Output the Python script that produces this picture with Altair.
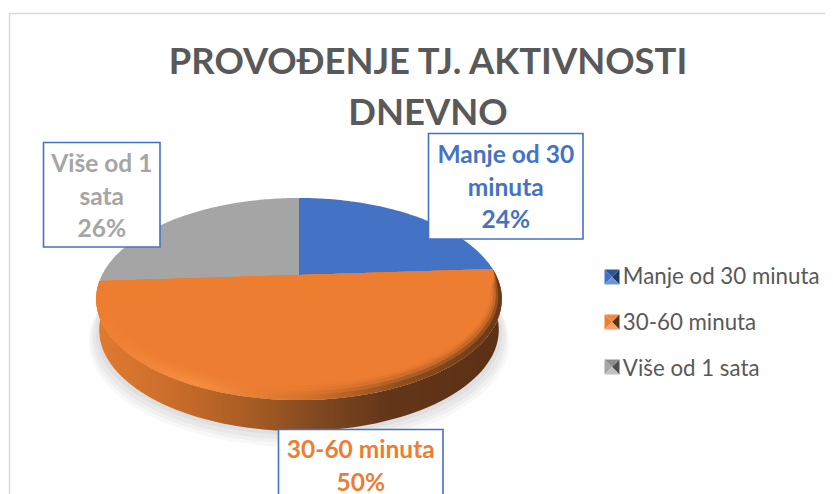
import math
import altair as alt

categories = ["Manje od 30 minuta", "30-60 minuta", "Više od 1 sata"]
shares = [24, 50, 26]
colors = ["#4472C4", "#ED7D31", "#A5A5A5"]
title_lines = ["PROVOĐENJE TJ. AKTIVNOSTI", "DNEVNO"]
label_lines = [["Manje od 30", "minuta", "24%"], ["30-60 minuta", "50%"], ["Više od 1", "sata", "26%"]]

OFF = 8
CX, K, APEX, A, C = 299, 197, 275, 30, -0.2376


def proj(s, t, dy=0.0, shrink=1.0):
    d = 1 + C * t
    return [CX - OFF + K * shrink * s / d, (A * t + APEX) / d + dy - OFF]


def feat(coords, **props):
    return {"type": "Feature", "properties": props,
            "geometry": {"type": "Polygon", "coordinates": [coords + [coords[0]]]}}


def wedge(a0, a1, rf=lambda a: 1.0):
    n = max(8, int(a1 - a0))
    pts = [proj(0, 0)]
    for i in range(n + 1):
        a = a0 + (a1 - a0) * i / n
        r = rf(a)
        pts.append(proj(r * math.sin(math.radians(a)), -r * math.cos(math.radians(a))))
    return pts


def disc(dy=0.0, grow=1.0):
    return [proj(grow * math.sin(math.radians(3 * i)), -grow * math.cos(math.radians(3 * i)), dy) for i in range(120)]


# slice angles come from the shares
edges = [0.0]
for v in shares:
    edges.append(edges[-1] + v * 3.6)
slices = [feat(wedge(edges[i], edges[i + 1]), name=categories[i]) for i in range(3)]


def shape(features, **mark):
    mark.setdefault("strokeWidth", 0)
    return alt.Chart(alt.Data(values=features)).mark_geoshape(**mark).project(type="identity", scale=1, translate=[0, 0])


def grad(stops):
    return alt.LinearGradient(gradient="linear", x1=0, x2=1, y1=0, y2=0,
                              stops=[alt.GradientStop(offset=o, color=c) for o, c in stops])


layers = []
# frame: only its left and top edges are in view
layers.append(alt.Chart(alt.Data(values=[{"x": 9.5 - OFF, "x2": 900, "y": 13.5 - OFF, "y2": 560}]))
              .mark_rect(fill="white", stroke="#D9D9D9", strokeWidth=1.5, clip=True)
              .encode(x=alt.X("x:Q", scale=None), x2="x2:Q", y=alt.Y("y:Q", scale=None), y2="y2:Q"))
# soft shadow
for grow, dy, op in [(1.035, 41, 0.05), (1.025, 39, 0.06), (1.015, 37, 0.07), (1.0, 35, 0.08), (0.985, 33, 0.1)]:
    layers.append(shape([feat(disc(dy, grow))], color="#7F7F7F", opacity=op))
# side wall
lower = [proj(math.sin(math.radians(a)), -math.cos(math.radians(a))) for a in range(86, 268, 2)]
lower_b = [proj(math.sin(math.radians(a)), -math.cos(math.radians(a)), 31, 0.985) for a in range(86, 268, 2)]
side_stops = [(0, "#E07A30"), (0.2, "#C96C2A"), (0.4, "#A35A24"), (0.55, "#7F4820"), (0.72, "#63361A"), (1, "#5C3014")]
layers.append(shape([feat(lower + lower_b[::-1])], color=grad(side_stops)))
# main slices, with the legend
layers.append(
    shape(slices).encode(
        color=alt.Color("properties.name:N",
                        scale=alt.Scale(domain=categories, range=colors),
                        legend=alt.Legend(title=None, orient="none", legendX=592.5, legendY=258,
                                          symbolType="square", symbolSize=64, symbolStrokeWidth=0, symbolOpacity=0,
                                          labelFontSize=22.3, labelFont="Lato", labelColor="#595959",
                                          labelLimit=260, rowPadding=23, labelOffset=0))
    )
)
# bevel on the orange top face
a0, a1 = edges[1], edges[2]
bevel = [(0, "#ED7D31"), (0.25, "#F58D40"), (0.5, "#D9742E"), (0.75, "#8F4F20"), (1, "#693817")]
layers.append(shape([feat(wedge(a0, a1))], color=grad(bevel)))


def rim(frac):
    def f(a):
        e = min(1, max(0, min(a - a0, a1 - a) / 10))
        w = 0.04 + 0.07 * max(0, -math.cos(math.radians(a)))
        return 1 - w * frac * e
    return f


for frac, op in [(0.3, 0.35), (0.5, 0.5), (0.7, 0.6), (0.85, 0.75), (1.0, 1)]:
    layers.append(shape([feat(wedge(a0, a1, rim(frac)))], color="#ED7D31", opacity=op))

# label boxes
boxes = [
    dict(x=428.5, x2=583, y=133.5, y2=239, c=0),
    dict(x=278.5, x2=443, y=429.5, y2=530, c=1),
    dict(x=43.5, x2=160, y=142.5, y2=247, c=2),
]
for b in boxes:
    for k in ("x", "x2", "y", "y2"):
        b[k] -= OFF
layers.append(alt.Chart(alt.Data(values=boxes)).mark_rect(fill="white", stroke="#4472C4", strokeWidth=1.6, clip=True)
              .encode(x=alt.X("x:Q", scale=None), x2="x2:Q", y=alt.Y("y:Q", scale=None), y2="y2:Q"))
# label texts
LINE = 32.5
starts = [156, 451, 165]
rows = []
for i, lines in enumerate(label_lines):
    b = boxes[i]
    for j, s in enumerate(lines):
        rows.append({"x": (b["x"] + b["x2"]) / 2, "y": starts[i] - OFF + j * LINE, "t": s, "c": colors[i]})
layers.append(alt.Chart(alt.Data(values=rows)).mark_text(font="Lato", fontWeight="bold", fontSize=24.5, baseline="middle", align="center")
              .encode(x=alt.X("x:Q", scale=None), y=alt.Y("y:Q", scale=None), text="t:N", color=alt.Color("c:N", scale=None)))

# pyramid shading of the legend keys
key_shades = [
    ("#4472C4", "#2F5597", "#1F3864", "#6F94D6"),
    ("#ED7D31", "#F08A42", "#5C3014", "#F4A26C"),
    ("#A5A5A5", "#8C8C8C", "#4F4F4F", "#C0C0C0"),
]
key_y = [277, 322, 367]
for (left, top, right, bot), yy in zip(key_shades, key_y):
    x0, x1, y0, y1 = 604.5 - OFF, 619.5 - OFF, yy - 7.5 - OFF, yy + 7.5 - OFF
    mx, my = (x0 + x1) / 2, (y0 + y1) / 2
    for col, tri in [(left, [[x0, y0], [mx, my], [x0, y1]]), (top, [[x0, y0], [x1, y0], [mx, my]]),
                     (right, [[x1, y0], [x1, y1], [mx, my]]), (bot, [[x0, y1], [mx, my], [x1, y1]])]:
        layers.append(shape([feat(tri)], color=col))

chart = alt.layer(*layers).properties(
    width=817, height=486, padding=0,
    autosize=alt.AutoSizeParams(type="none"),
    title=alt.TitleParams(text=title_lines, font="Lato", fontSize=36.4, fontWeight="bold", color="#595959",
                          anchor="middle", dx=11.5, dy=128, lineHeight=51, baseline="top"),
).configure_view(stroke=None)

chart.save("out.html", embed_options={"renderer": "svg", "actions": False})
